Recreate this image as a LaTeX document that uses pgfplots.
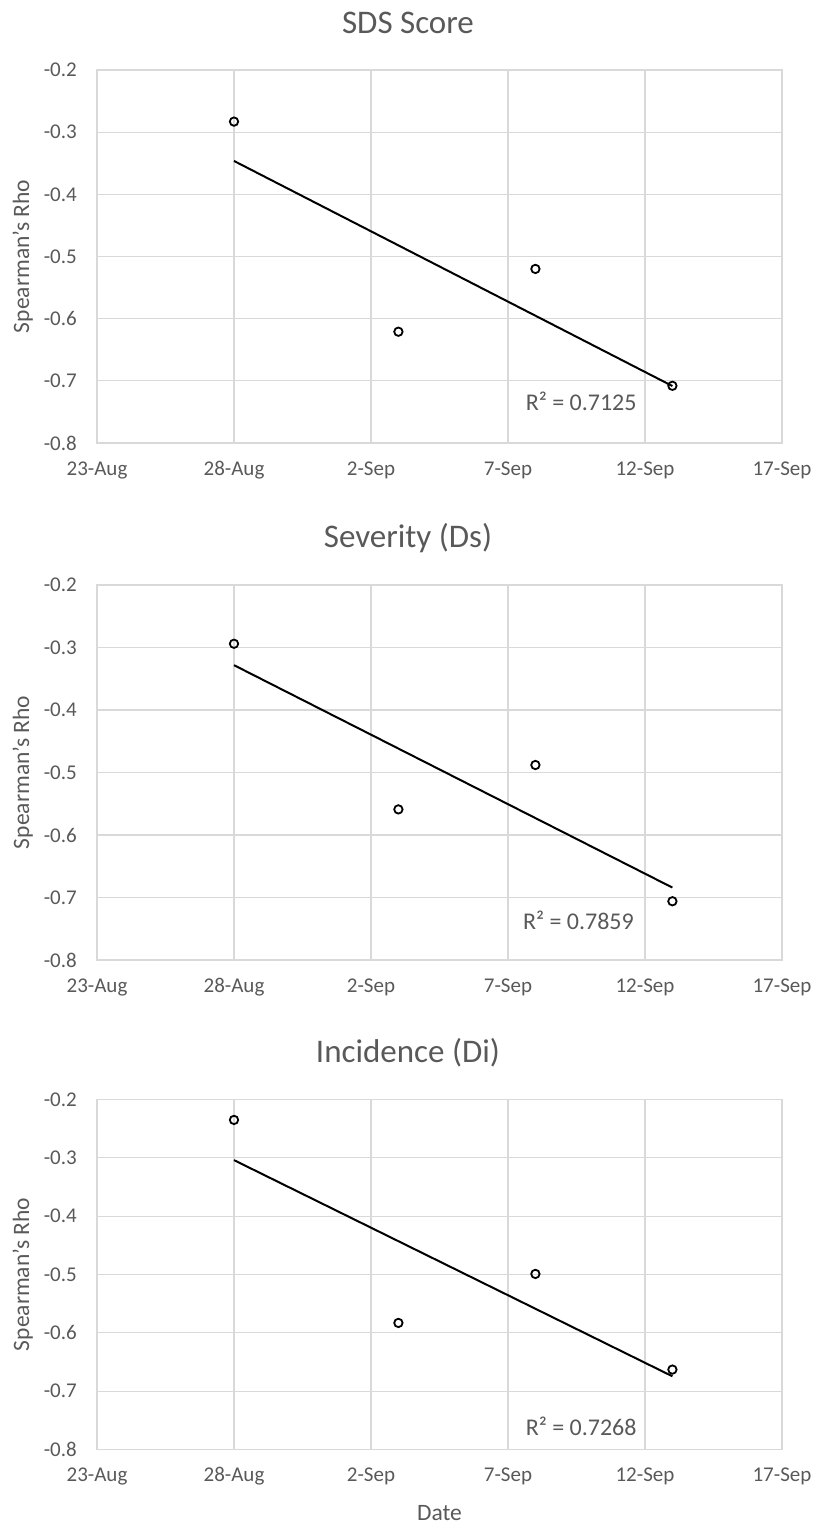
\documentclass[border=0pt]{standalone}
\usepackage{fontspec}
\setmainfont{Carlito}
\usepackage{pgfplots}
\usepackage{pgfplotstable}
\pgfplotsset{compat=1.18}
\definecolor{txt}{HTML}{595959}
\definecolor{grd}{HTML}{D9D9D9}

% x = days after 23-Aug
\pgfplotstableread{
x y
5 -0.283
11 -0.621
16 -0.520
21 -0.708
}\dataA
\pgfplotstableread{
x y
5 -0.294
11 -0.559
16 -0.488
21 -0.706
}\dataB
\pgfplotstableread{
x y
5 -0.235
11 -0.583
16 -0.499
21 -0.663
}\dataC

\pgfplotsset{panel/.style={
  scale only axis, width=685pt,
  xmin=0, xmax=25, ymin=-0.8, ymax=-0.2,
  xtick={0,5,10,15,20,25},
  xticklabels={23-Aug,28-Aug,2-Sep,7-Sep,12-Sep,17-Sep},
  ytick={-0.8,-0.7,-0.6,-0.5,-0.4,-0.3,-0.2},
  yticklabels={-0.8,-0.7,-0.6,-0.5,-0.4,-0.3,-0.2},
  grid=major, major grid style={grd, line width=1.3pt},
  axis line style={grd, line width=1.3pt},
  major tick length=0pt,
  tick label style={font=\fontsize{21}{24}\selectfont, text=txt},
  xticklabel style={anchor=center, yshift=-27pt},
  yticklabel style={anchor=east, inner sep=0pt, xshift=-20pt},
  ylabel={Spearman's Rho},
  ylabel style={at={(axis description cs:-0.1083,0.5)}, anchor=center, rotate=0,
    font=\fontsize{23.5}{26}\selectfont, text=txt},
  title style={at={(axis description cs:0.454,1)}, anchor=center, yshift=41pt,
    font=\fontsize{33}{36}\selectfont, text=txt},
  clip=false,
}}
\tikzset{
  pts/.style={only marks, mark=o, mark size=4.2pt, black, line width=1.8pt},
  trend/.style={no marks, black, line width=2pt},
  r2/.style={font=\fontsize{24}{26}\selectfont, text=txt, anchor=center},
}

\begin{document}
\begin{tikzpicture}
\useasboundingbox (-97pt,70pt) rectangle (719pt,-1455pt);
\begin{axis}[panel, height=373pt, at={(0pt,0pt)}, anchor=north west, title={SDS Score}]
  \addplot[trend] table[x=x, y={create col/linear regression={y=y}}] {\dataA};
  \addplot[pts] table[x=x, y=y] {\dataA};
  \node[r2] at (axis cs:17.67,-0.733) {R² = 0.7125};
\end{axis}
\begin{axis}[panel, height=375pt, at={(0pt,-515pt)}, anchor=north west, title={Severity (Ds)}]
  \addplot[trend] table[x=x, y={create col/linear regression={y=y}}] {\dataB};
  \addplot[pts] table[x=x, y=y] {\dataB};
  \node[r2] at (axis cs:17.57,-0.737) {R² = 0.7859};
\end{axis}
\begin{axis}[panel, height=350pt, at={(0pt,-1029.5pt)}, anchor=north west, title={Incidence (Di)},
  xlabel={Date},
  xlabel style={at={(axis description cs:0.5,-0.1814)}, anchor=center,
    font=\fontsize{23.5}{26}\selectfont, text=txt}]
  \addplot[trend] table[x=x, y={create col/linear regression={y=y}}] {\dataC};
  \addplot[pts] table[x=x, y=y] {\dataC};
  \node[r2] at (axis cs:17.67,-0.761) {R² = 0.7268};
\end{axis}
\end{tikzpicture}
\end{document}
